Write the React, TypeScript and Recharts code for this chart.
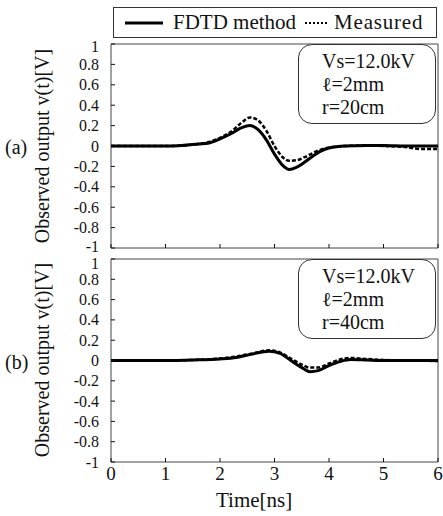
import { LineChart, Line, XAxis, YAxis, ReferenceArea } from 'recharts'

// panel (a): r = 20cm
const timeA = [0, 0.5, 1.0, 1.3, 1.6, 1.8, 2.0, 2.2, 2.4, 2.55, 2.7, 2.85, 3.0, 3.15, 3.27, 3.4, 3.55, 3.7, 3.85, 4.0, 4.3, 4.7, 5.0, 5.4, 5.7, 6.0]
const fdtdA = [0, 0, 0, 0.005, 0.02, 0.03, 0.07, 0.12, 0.18, 0.2, 0.16, 0.06, -0.08, -0.19, -0.23, -0.21, -0.16, -0.1, -0.05, -0.02, 0, 0.005, 0.005, 0, 0, 0]
const measA = [0, 0, 0, 0.005, 0.02, 0.04, 0.08, 0.14, 0.23, 0.28, 0.25, 0.15, 0.0, -0.11, -0.145, -0.14, -0.11, -0.07, -0.035, -0.015, 0, 0.005, 0, -0.01, -0.03, -0.03]

// panel (b): r = 40cm
const timeB = [0, 0.5, 1.0, 1.5, 2.0, 2.3, 2.6, 2.9, 3.1, 3.3, 3.5, 3.65, 3.8, 4.0, 4.2, 4.4, 4.7, 5.0, 5.5, 6.0]
const fdtdB = [0, 0, 0, 0.005, 0.015, 0.03, 0.065, 0.09, 0.07, 0.0, -0.07, -0.11, -0.1, -0.05, -0.01, 0.01, 0.005, 0, 0, 0]
const measB = [0, 0, 0, 0.005, 0.02, 0.04, 0.07, 0.1, 0.08, 0.02, -0.04, -0.07, -0.07, -0.03, 0.01, 0.025, 0.015, 0.005, 0, -0.005]

const yTicks = [-1, -0.8, -0.6, -0.4, -0.2, 0, 0.2, 0.4, 0.6, 0.8, 1]
const xTicks = [0, 1, 2, 3, 4, 5, 6]
const legendNames = ['FDTD method', 'Measured']
const notesA = ['Vs=12.0kV', 'ℓ=2mm', 'r=20cm']
const notesB = ['Vs=12.0kV', 'ℓ=2mm', 'r=40cm']

const rowsA = timeA.map((t, i) => ({ t, fdtd: fdtdA[i], meas: measA[i] }))
const rowsB = timeB.map((t, i) => ({ t, fdtd: fdtdB[i], meas: measB[i] }))

const font = '"Liberation Serif", "DejaVu Serif", serif'
const ink = '#111'

function YTick({ x, y, payload, top }: any) {
    const v = payload.value
    // end labels nudged a little, like the original
    let dy = 0
    if (v === 1) dy = top ? 2 : 4
    if (v === -1 && top) dy = -2
    return (
        <g>
            <line x1={x} x2={x + 4} y1={y} y2={y} stroke={ink} />
            <text x={x - 12} y={y + dy} textAnchor="end" dominantBaseline="central" fontSize={16} fontFamily={font} fill={ink}>{String(v)}</text>
        </g>
    )
}

function XTick({ x, y, payload, showLabel }: any) {
    return (
        <g>
            <line x1={x} x2={x} y1={y} y2={y - 4} stroke={ink} />
            {showLabel && <text x={x} y={y + 18} textAnchor="middle" fontSize={19} fontFamily={font} fill={ink}>{String(payload.value)}</text>}
        </g>
    )
}

function Panel({ rows, height, margin, xHeight, showLabels, top }: any) {
    return (
        <LineChart width={443} height={height} data={rows} margin={margin}>
            <XAxis type="number" dataKey="t" domain={[0, 6]} ticks={xTicks} axisLine={false} tickLine={false} tickSize={0} tickMargin={0} height={xHeight}
                tick={(p: any) => <XTick {...p} showLabel={showLabels} />} interval={0} />
            <YAxis type="number" domain={[-1, 1]} ticks={yTicks} axisLine={false} tickLine={false} tickSize={0} tickMargin={0} width={111}
                tick={(p: any) => <YTick {...p} top={top} />} interval={0} />
            <ReferenceArea x1={0} x2={6} y1={-1} y2={1} fill="none" stroke="#444" strokeWidth={1} ifOverflow="visible" />
            <Line type="monotone" dataKey="meas" stroke="#000" strokeWidth={2.5} strokeDasharray="4 2" dot={false} isAnimationActive={false} />
            <Line type="monotone" dataKey="fdtd" stroke="#000" strokeWidth={3} dot={false} isAnimationActive={false} />
        </LineChart>
    )
}

function NoteBox({ top, lines }: { top: number; lines: string[] }) {
    return (
        <div style={{ position: 'absolute', left: 298, top, width: 138, height: 80, border: '1px solid #333', borderRadius: 14, background: '#fff', boxSizing: 'border-box', paddingLeft: 23, paddingTop: 5 }}>
            {lines.map((l) => (
                <div key={l} style={{ fontSize: 20, lineHeight: '23px', fontFamily: font, color: ink, whiteSpace: 'nowrap' }}>{l}</div>
            ))}
        </div>
    )
}

function YTitle({ cy }: { cy: number }) {
    return (
        <div style={{ position: 'absolute', left: 42, top: cy, transform: 'translate(-50%, -50%) rotate(-90deg)', whiteSpace: 'nowrap', fontSize: 20, fontFamily: font, color: ink }}>
            Observed output v(t)[V]
        </div>
    )
}

export default function App() {
    return (
        <div style={{ position: 'absolute', left: 0, top: 0, width: 443, height: 516, background: '#fff', overflow: 'hidden' }}>
            {/* legend */}
            <div style={{ position: 'absolute', left: 113, top: 7, width: 324, height: 31, border: '1px solid #333', boxSizing: 'border-box', display: 'flex', alignItems: 'center', paddingLeft: 11, fontFamily: font, fontSize: 21, color: ink, whiteSpace: 'nowrap' }}>
                <svg width={40} height={10}><line x1={0} x2={38} y1={5} y2={5} stroke="#000" strokeWidth={3} /></svg>
                <span style={{ marginLeft: 8 }}>{legendNames[0]}</span>
                <svg width={26} height={10} style={{ marginLeft: 9 }}><line x1={0} x2={23} y1={5} y2={5} stroke="#000" strokeWidth={2} strokeDasharray="2 2" /></svg>
                <span style={{ marginLeft: 3, letterSpacing: 0.8 }}>{legendNames[1]}</span>
            </div>

            <div style={{ position: 'absolute', left: 0, top: 0 }}>
                <Panel rows={rowsA} height={256} margin={{ top: 44, right: 5, bottom: 6, left: 0 }} xHeight={2} showLabels={false} top={true} />
            </div>
            <div style={{ position: 'absolute', left: 0, top: 249 }}>
                <Panel rows={rowsB} height={267} margin={{ top: 10, right: 5, bottom: 0, left: 0 }} xHeight={54} showLabels={true} top={false} />
            </div>

            <NoteBox top={44} lines={notesA} />
            <NoteBox top={259} lines={notesB} />

            <YTitle cy={146} />
            <YTitle cy={360} />
            <div style={{ position: 'absolute', left: 5, top: 136, fontSize: 20, fontFamily: font, color: ink }}>(a)</div>
            <div style={{ position: 'absolute', left: 5, top: 351, fontSize: 20, fontFamily: font, color: ink }}>(b)</div>

            <div style={{ position: 'absolute', left: 216, top: 488, fontSize: 21, fontFamily: font, color: ink, whiteSpace: 'nowrap' }}>Time[ns]</div>
        </div>
    )
}
